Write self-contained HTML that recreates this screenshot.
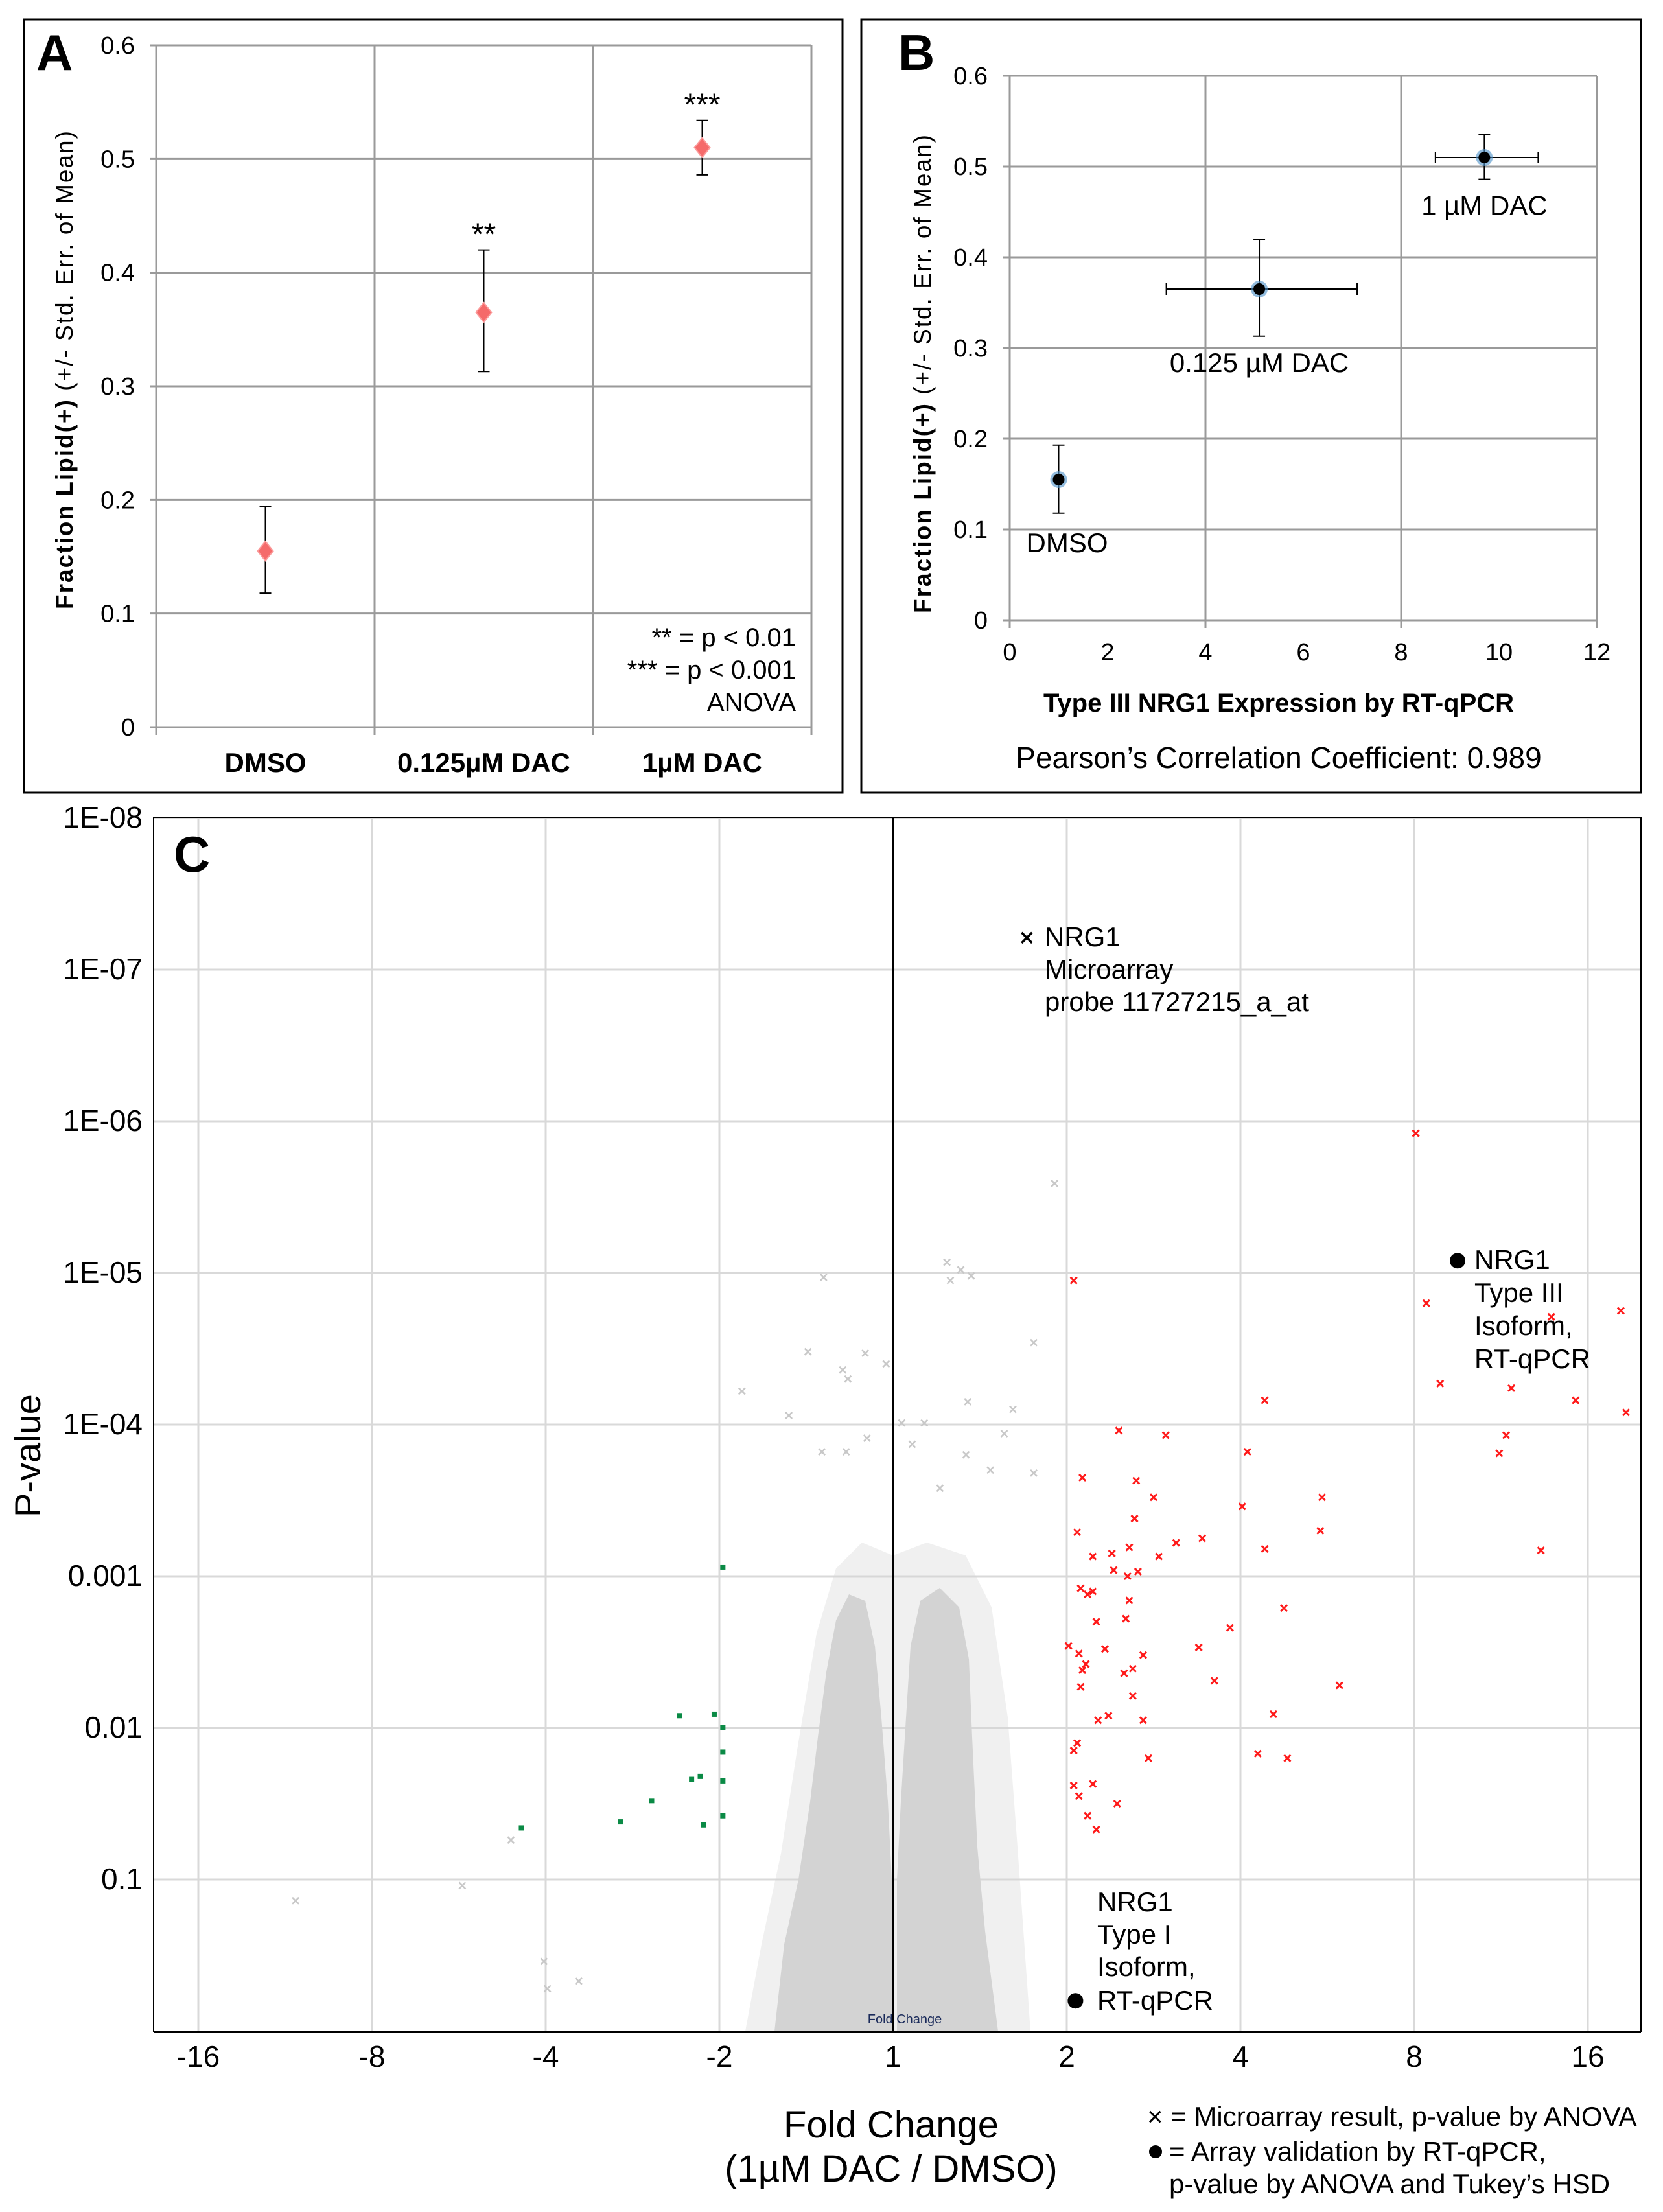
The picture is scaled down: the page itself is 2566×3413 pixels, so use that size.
<!DOCTYPE html>
<html><head><meta charset="utf-8">
<style>
html,body{margin:0;padding:0;background:#fff;}
svg{display:block;font-family:"Liberation Sans Narrow","Liberation Sans",Arial,sans-serif;}
</style></head>
<body>
<svg id="fig" xmlns="http://www.w3.org/2000/svg" width="2566" height="3413" viewBox="0 0 2566 3413">
<rect x="0" y="0" width="2566" height="3413" fill="#fff"/>
<!-- Panel A -->
<g id="panelA">
  <rect x="37" y="30" width="1263" height="1193" fill="none" stroke="#000" stroke-width="3"/>
  <text x="56" y="108" font-family="Liberation Sans" font-weight="bold" font-size="78">A</text>
  <g id="aGrid"></g>
  <g id="aMarks"></g>
  <text transform="translate(112,570) rotate(-90)" text-anchor="middle" font-family="Liberation Sans" font-size="37" letter-spacing="2"><tspan font-weight="bold">Fraction Lipid(+)</tspan> (+/- Std. Err. of Mean)</text>
  <text x="1228" y="997" text-anchor="end" font-size="40">**  = p &lt; 0.01</text>
  <text x="1228" y="1047" text-anchor="end" font-size="40">*** = p &lt; 0.001</text>
  <text x="1228" y="1097" text-anchor="end" font-size="40">ANOVA</text>
</g>
<!-- Panel B -->
<g id="panelB">
  <rect x="1329" y="30" width="1203" height="1193" fill="none" stroke="#000" stroke-width="3"/>
  <text x="1386" y="108" font-family="Liberation Sans" font-weight="bold" font-size="78">B</text>
  <g id="bGrid"></g>
  <g id="bMarks"></g>
  <text transform="translate(1436,576) rotate(-90)" text-anchor="middle" font-family="Liberation Sans" font-size="37" letter-spacing="2"><tspan font-weight="bold">Fraction Lipid(+)</tspan> (+/- Std. Err. of Mean)</text>
  <text x="1973" y="1098" text-anchor="middle" font-weight="bold" font-size="40">Type III NRG1 Expression by RT-qPCR</text>
  <text x="1973" y="1185" text-anchor="middle" font-size="46">Pearson’s Correlation Coefficient: 0.989</text>
</g>
<!-- Panel C -->
<g id="panelC">
  <g id="cGrid"></g>
  <g id="cCloud">
    <polygon points="1150,3134 1175,3000 1205,2860 1230,2700 1260,2520 1290,2420 1330,2380 1378,2400 1430,2380 1490,2400 1530,2480 1555,2650 1570,2850 1590,3134" fill="#d3d3d3" opacity="0.35"/>
    <polygon points="1195,3134 1210,3000 1232,2900 1250,2780 1262,2680 1275,2580 1290,2500 1310,2460 1335,2470 1350,2540 1360,2650 1370,2780 1376,2900 1376,3134" fill="#d3d3d3"/>
    <polygon points="1384,3134 1384,2900 1390,2780 1398,2650 1405,2540 1420,2470 1450,2450 1480,2480 1495,2560 1500,2680 1508,2850 1520,2980 1540,3134" fill="#d3d3d3"/>
  </g>
  <g id="cMarks"></g>
  <line x1="1378" y1="1261" x2="1378" y2="3134" stroke="#000" stroke-width="3"/>
  <rect x="237" y="1261" width="2295" height="1873" fill="none" stroke="#000" stroke-width="2"/>
  <line x1="237" y1="3135" x2="2532" y2="3135" stroke="#000" stroke-width="4"/>
  <text x="268" y="1345" font-family="Liberation Sans" font-weight="bold" font-size="78">C</text>
  <text x="1396" y="3122" text-anchor="middle" font-size="20" fill="#1a2a5a">Fold Change</text>
  <text transform="translate(62,2246) rotate(-90)" text-anchor="middle" font-family="Liberation Sans" font-size="56">P-value</text>
  <text x="1375" y="3298" text-anchor="middle" font-size="58">Fold Change</text>
  <text x="1375" y="3366" text-anchor="middle" font-size="58">(1µM DAC / DMSO)</text>
  <text x="1612" y="1460" font-size="42">NRG1</text>
  <text x="1612" y="1510" font-size="42">Microarray</text>
  <text x="1612" y="1560" font-size="42">probe 11727215_a_at</text>
  <text x="2275" y="1958" font-size="42">NRG1</text>
  <text x="2275" y="2009" font-size="42">Type III</text>
  <text x="2275" y="2060" font-size="42">Isoform,</text>
  <text x="2275" y="2111" font-size="42">RT-qPCR</text>
  <text x="1693" y="2949" font-size="42">NRG1</text>
  <text x="1693" y="2999" font-size="42">Type I</text>
  <text x="1693" y="3049" font-size="42">Isoform,</text>
  <text x="1693" y="3101" font-size="42">RT-qPCR</text>
  <text x="1770" y="3280" font-size="42">× = Microarray result, p-value by ANOVA</text>
  <circle cx="1783" cy="3320" r="10" fill="#000"/>
  <text x="1804" y="3334" font-size="42">= Array validation by RT-qPCR,</text>
  <text x="1804" y="3384" font-size="42">p-value by ANOVA and Tukey’s HSD</text>
</g>
</svg>
<script>
// ---- Panel A data ----
const aCategories = ["DMSO", "0.125µM DAC", "1µM DAC"];
const aMeans = [0.155, 0.365, 0.510];
const aErrLow = [0.118, 0.313, 0.486];
const aErrHigh = [0.194, 0.420, 0.534];
const aStars = ["", "**", "***"];
const aTicks = [0, 0.1, 0.2, 0.3, 0.4, 0.5, 0.6];
// ---- Panel B data ----
const bLabels = ["DMSO", "0.125 µM DAC", "1 µM DAC"];
const bX = [1.0, 5.1, 9.7];
const bXLow = [1.0, 3.2, 8.7];
const bXHigh = [1.0, 7.1, 10.8];
const bY = [0.155, 0.365, 0.510];
const bYLow = [0.118, 0.313, 0.486];
const bYHigh = [0.193, 0.420, 0.535];
const bXTicks = [0, 2, 4, 6, 8, 10, 12];
const bYTicks = [0, 0.1, 0.2, 0.3, 0.4, 0.5, 0.6];
// ---- Panel C data (log2 fold change, -log10 p) ----
const cXTickLabels = ["-16", "-8", "-4", "-2", "1", "2", "4", "8", "16"];
const cXTickLog2 = [-4, -3, -2, -1, 0, 1, 2, 3, 4];
const cYTickLabels = ["1E-08", "1E-07", "1E-06", "1E-05", "1E-04", "0.001", "0.01", "0.1"];
const cYTickNegLog = [8, 7, 6, 5, 4, 3, 2, 1];
const upLog2 = [3.01,1.04,3.07,4.19,3.79,3.15,2.14,3.56,3.93,4.22,1.30,1.57,3.53,3.49,2.04,1.09,1.40,1.50,2.47,2.01,1.06,1.39,1.63,1.78,2.46,2.14,3.73,1.36,1.26,1.15,1.53,1.27,1.41,1.08,1.15,1.12,1.35,1.36,2.25,1.94,1.34,1.17,1.01,1.07,1.22,1.44,1.76,1.11,1.09,1.33,1.38,1.85,1.08,2.57,1.38,2.19,1.24,1.18,1.44,1.06,2.10,2.27,1.47,1.04,1.04,1.15,1.07,1.29,1.12,1.17];
const upNegLogP = [5.92,4.95,4.80,4.75,4.71,4.27,4.16,4.24,4.16,4.08,3.96,3.93,3.93,3.81,3.82,3.65,3.63,3.52,3.52,3.46,3.29,3.38,3.22,3.25,3.30,3.18,3.17,3.19,3.15,3.13,3.13,3.04,3.03,2.92,2.90,2.88,3.00,2.84,2.79,2.66,2.72,2.70,2.54,2.49,2.52,2.48,2.53,2.42,2.38,2.36,2.39,2.31,2.27,2.28,2.21,2.09,2.08,2.05,2.05,1.90,1.83,1.80,1.80,1.85,1.62,1.63,1.55,1.50,1.42,1.33];
const downLog2 = [-0.98,-1.23,-1.03,-0.98,-0.98,-1.11,-1.16,-0.98,-1.39,-1.57,-1.09,-0.98,-2.14];
const downNegLogP = [3.06,2.08,2.09,2.00,1.84,1.68,1.66,1.65,1.52,1.38,1.36,1.42,1.34];
const nsLog2 = [0.93,0.31,0.33,0.39,0.45,-0.40,0.81,-0.49,-0.16,-0.29,-0.04,-0.26,-0.87,0.43,-0.60,0.69,0.05,0.18,-0.15,0.64,0.56,-0.41,-0.27,0.27,0.81,0.42,0.11,-3.44,-2.48,-2.20,-2.01,-1.81,-1.99];
const nsNegLogP = [5.59,5.07,4.95,5.02,4.98,4.97,4.54,4.48,4.47,4.36,4.40,4.30,4.22,4.15,4.06,4.10,4.01,4.01,3.91,3.94,3.70,3.82,3.82,3.58,3.68,3.80,3.87,0.86,0.96,1.26,0.46,0.33,0.28];
const probeLog2 = [0.77];
const probeNegLogP = [7.21];
const qpcrLog2 = [3.25, 1.05];
const qpcrNegLogP = [5.08, 0.20];

const NS = "http://www.w3.org/2000/svg";
function mk(parent, tag, attrs, text) {
  const e = document.createElementNS(NS, tag);
  for (const k in attrs) e.setAttribute(k, attrs[k]);
  if (text !== undefined) e.textContent = text;
  parent.appendChild(e);
  return e;
}

// ===== Panel A =====
const aL = 241, aR = 1252, aTop = 70, aBot = 1122;
const aY = v => aBot - (v / 0.6) * (aBot - aTop);
const aXc = i => aL + (i + 0.5) * (aR - aL) / aCategories.length;
const aGrid = document.getElementById('aGrid');
const aMarks = document.getElementById('aMarks');
aTicks.forEach(t => {
  const gl = mk(aGrid, 'line', {x1: aL - 10, x2: aR, y1: aY(t), y2: aY(t), stroke: '#9a9a9a', 'stroke-width': 3});
  
  
  const tl = mk(aGrid, 'text', {x: 208, y: aY(t) + 13, 'text-anchor': 'end', 'font-size': 38}, t === 0 ? '0' : String(t));
  
  
});
for (let i = 0; i <= aCategories.length; i++) {
  const x = aL + i * (aR - aL) / aCategories.length;
  const vl = mk(aGrid, 'line', {x1: x, x2: x, y1: aTop, y2: aBot + 12, stroke: '#9a9a9a', 'stroke-width': 3});
  
  
}
aCategories.forEach((c, i) => {
  const x = aXc(i);
  const cl = mk(aGrid, 'text', {x: x, y: 1191, 'text-anchor': 'middle', 'font-size': 42, 'font-weight': 'bold'}, c);
  
  
  const eb = mk(aMarks, 'path', {d: `M${x},${aY(aErrLow[i])}V${aY(aErrHigh[i])}M${x-9},${aY(aErrLow[i])}H${x+9}M${x-9},${aY(aErrHigh[i])}H${x+9}`, stroke: '#000', 'stroke-width': 2, fill: 'none'});
  
  
  const y = aY(aMeans[i]);
  const d = mk(aMarks, 'path', {d: `M${x},${y-15}L${x+12},${y}L${x},${y+15}L${x-12},${y}Z`, fill: '#f56a6a', stroke: '#fb9a9a', 'stroke-width': 2});
  
  
  if (aStars[i]) {
    const s = mk(aMarks, 'text', {x: x, y: aY(aErrHigh[i]) - 8, 'text-anchor': 'middle', 'font-size': 48}, aStars[i]);
    
    
  }
});

// ===== Panel B =====
const bL = 1558, bR = 2464, bTop = 117, bBot = 957;
const bXs = v => bL + v / 12 * (bR - bL);
const bYs = v => bBot - v / 0.6 * (bBot - bTop);
const bGrid = document.getElementById('bGrid');
const bMarks = document.getElementById('bMarks');
bYTicks.forEach(t => {
  const gl = mk(bGrid, 'line', {x1: bL - 10, x2: bR, y1: bYs(t), y2: bYs(t), stroke: '#9a9a9a', 'stroke-width': 3});
  
  
  const tl = mk(bGrid, 'text', {x: 1524, y: bYs(t) + 13, 'text-anchor': 'end', 'font-size': 38}, t === 0 ? '0' : String(t));
  
  
});
bXTicks.forEach(t => {
  if (t % 4 === 0) {
    const vl = mk(bGrid, 'line', {x1: bXs(t), x2: bXs(t), y1: bTop, y2: bBot + 12, stroke: '#9a9a9a', 'stroke-width': 3});
    
    
  }
  const tl = mk(bGrid, 'text', {x: bXs(t), y: 1019, 'text-anchor': 'middle', 'font-size': 38}, String(t));
  
  
});
bX.forEach((xv, i) => {
  const x = bXs(xv), y = bYs(bY[i]);
  let d = `M${x},${bYs(bYLow[i])}V${bYs(bYHigh[i])}M${x-9},${bYs(bYLow[i])}H${x+9}M${x-9},${bYs(bYHigh[i])}H${x+9}`;
  if (bXHigh[i] > bXLow[i]) d += `M${bXs(bXLow[i])},${y}H${bXs(bXHigh[i])}M${bXs(bXLow[i])},${y-9}V${y+9}M${bXs(bXHigh[i])},${y-9}V${y+9}`;
  const eb = mk(bMarks, 'path', {d: d, stroke: '#000', 'stroke-width': 2, fill: 'none'});
  
  
  const g = mk(bMarks, 'circle', {cx: x, cy: y, r: 13, fill: '#4a90c8', opacity: 0.6});
  
  
  const c = mk(bMarks, 'circle', {cx: x, cy: y, r: 9, fill: '#000'});
  
  
  let lx, ly, anchor;
  if (i === 0) { lx = x - 50; ly = bYs(bYLow[i]) + 60; anchor = 'start'; }
  else { lx = x; ly = bYs(bYLow[i]) + 55; anchor = 'middle'; }
  const lab = mk(bMarks, 'text', {x: lx, y: ly, 'text-anchor': anchor, 'font-size': 42}, bLabels[i]);
  
  
});

// ===== Panel C =====
const cL = 237, cR = 2532, cTop = 1261, cBot = 3134;
const cX = l2 => 1378 + l2 * 268;
const cY = nl => cBot - nl * 234;
const cGrid = document.getElementById('cGrid');
const cMarks = document.getElementById('cMarks');
cYTickNegLog.forEach((v, i) => {
  const gl = mk(cGrid, 'line', {x1: cL, x2: cR, y1: cY(v), y2: cY(v), stroke: '#d9d9d9', 'stroke-width': 3});
  
  
  const tl = mk(cGrid, 'text', {x: 220, y: cY(v) + 15, 'text-anchor': 'end', 'font-size': 46}, cYTickLabels[i]);
  
  
});
cXTickLog2.forEach((v, i) => {
  const gl = mk(cGrid, 'line', {x1: cX(v), x2: cX(v), y1: cTop, y2: cBot, stroke: '#d9d9d9', 'stroke-width': 3});
  
  
  const tl = mk(cGrid, 'text', {x: cX(v), y: 3189, 'text-anchor': 'middle', 'font-size': 46}, cXTickLabels[i]);
  
  
});
function xMark(x, y, s) {
  return `M${x-s},${y-s}L${x+s},${y+s}M${x-s},${y+s}L${x+s},${y-s}`;
}
nsLog2.forEach((v, i) => {
  const m = mk(cMarks, 'path', {d: xMark(cX(v), cY(nsNegLogP[i]), 5), stroke: '#c8c8c8', 'stroke-width': 2.5});
  
  
});
upLog2.forEach((v, i) => {
  const m = mk(cMarks, 'path', {d: xMark(cX(v), cY(upNegLogP[i]), 5), stroke: '#ff1a1a', 'stroke-width': 3});
  
  
});
downLog2.forEach((v, i) => {
  const m = mk(cMarks, 'rect', {x: cX(v) - 4, y: cY(downNegLogP[i]) - 4, width: 8, height: 8, fill: '#0a8a45'});
  
  
});
probeLog2.forEach((v, i) => {
  const m = mk(cMarks, 'path', {d: xMark(cX(v), cY(probeNegLogP[i]), 8), stroke: '#000', 'stroke-width': 3.5});
  
  
});
qpcrLog2.forEach((v, i) => {
  const m = mk(cMarks, 'circle', {cx: cX(v), cy: cY(qpcrNegLogP[i]), r: 12, fill: '#000'});
  
  
});
</script>
</body></html>
